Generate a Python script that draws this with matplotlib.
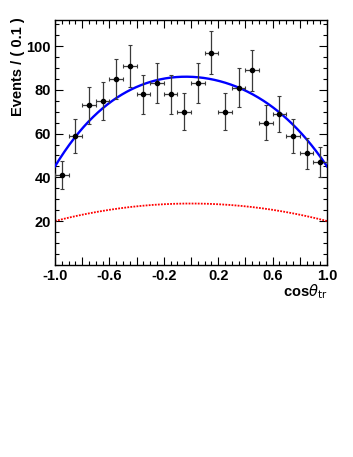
import numpy as np
import matplotlib
matplotlib.use('Agg')
import matplotlib.pyplot as plt
from matplotlib.ticker import MultipleLocator

plt.rcParams['font.family'] = ['Liberation Sans', 'DejaVu Sans']

# binned data: 20 bins of width 0.1 in cos(theta_tr)
bin_centers = [-0.95, -0.85, -0.75, -0.65, -0.55, -0.45, -0.35, -0.25, -0.15, -0.05,
               0.05, 0.15, 0.25, 0.35, 0.45, 0.55, 0.65, 0.75, 0.85, 0.95]
counts = [41, 59, 73, 75, 85, 91, 78, 83, 78, 70,
          83, 97, 70, 81, 89, 65, 69, 59, 51, 47]
bin_half_width = 0.05

# fit curves (polynomial coefficients)
total_coef = {'c0': 86.0, 'c1': -2.5, 'c2': -33.0, 'c4': -8.0}
bkg_coef = {'c0': 28.0, 'c2': -8.0}

x_ticks_labeled = [-1.0, -0.6, -0.2, 0.2, 0.6, 1.0]
y_ticks = [20, 40, 60, 80, 100]

fig = plt.figure(figsize=(3.53, 4.57), dpi=100)
ax = fig.add_axes([55 / 353, 1 - 264.7 / 457, 272 / 353, 244.7 / 457])

xs = np.linspace(-1, 1, 400)
total = (total_coef['c0'] + total_coef['c2'] * xs**2 + total_coef['c4'] * xs**4
         + total_coef['c1'] * xs * (1 - xs**2))
bkg = bkg_coef['c0'] + bkg_coef['c2'] * xs**2

ax.plot(xs, bkg, color='red', linestyle=(0, (1, 0.7)), linewidth=1.3, zorder=2)
ax.plot(xs, total, color='blue', linewidth=1.7, zorder=3)

yerr = np.sqrt(counts)
ax.errorbar(bin_centers, counts, xerr=bin_half_width, yerr=yerr, fmt='o',
            color='black', ecolor='#3a3a3a', elinewidth=0.9, capsize=1.5,
            capthick=0.8, markersize=3, zorder=4)

ax.set_xlim(-1, 1)
ax.set_ylim(0, 112)

major_x = np.round(np.arange(-1.0, 1.01, 0.2), 2)
ax.set_xticks(major_x)
ax.set_xticklabels([f'{t:.1f}' if any(abs(t - l) < 1e-6 for l in x_ticks_labeled) else ''
                    for t in major_x])
ax.xaxis.set_minor_locator(MultipleLocator(0.05))
ax.set_yticks(y_ticks)
ax.yaxis.set_minor_locator(MultipleLocator(5))

ax.tick_params(which='both', direction='in', top=True, right=True, width=0.8,
               labelsize=10.5, pad=3)
ax.tick_params(which='major', length=6)
ax.tick_params(which='minor', length=3)
for lab in ax.get_xticklabels() + ax.get_yticklabels():
    lab.set_fontweight('bold')
for sp in ax.spines.values():
    sp.set_linewidth(1.0)

fig.text(18 / 353, 1 - 17 / 457, 'Events / ( 0.1 )', rotation=90, ha='center',
         va='top', fontsize=10.5, fontweight='bold')
fig.text(327 / 353, 1 - 292 / 457, r'cos$\theta_{\rm tr}$', ha='right',
         va='center', fontsize=10.5, fontweight='bold')

fig.savefig('out.png', dpi=100)
